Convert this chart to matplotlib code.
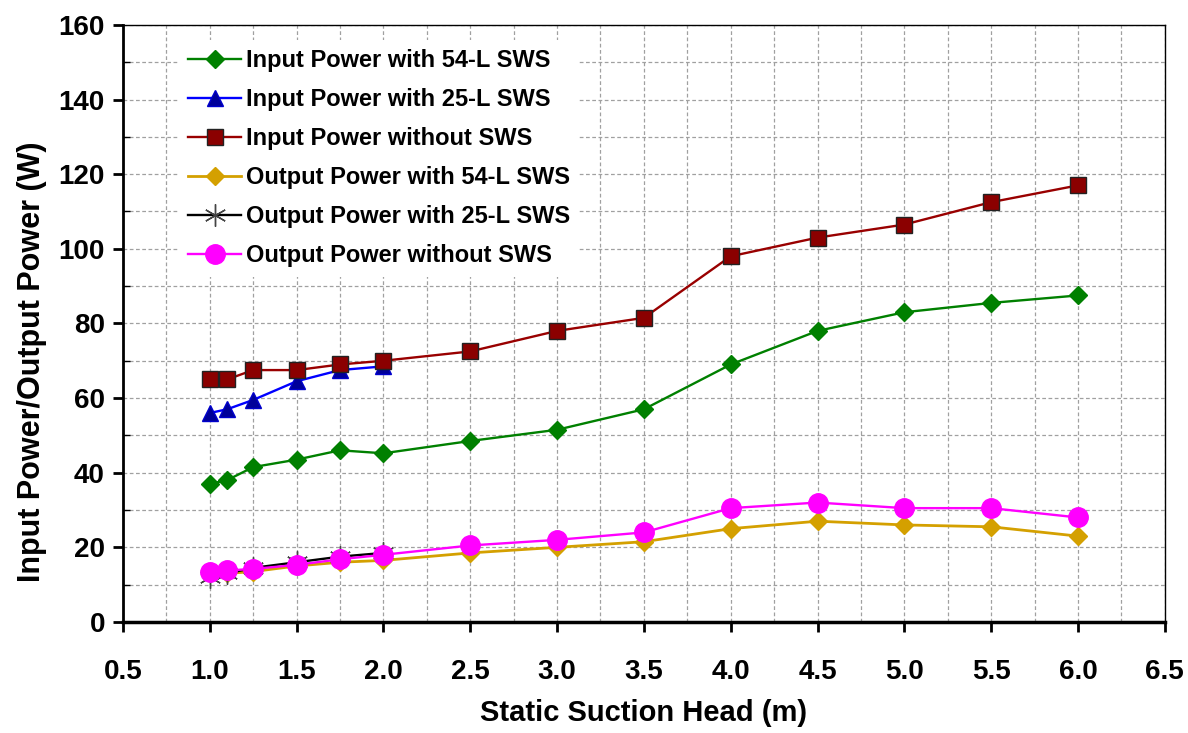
import numpy as np
import matplotlib.pyplot as plt
from matplotlib.ticker import MultipleLocator

plt.rcParams['font.family'] = ['Liberation Sans', 'DejaVu Sans']

# 数据
head_full = [1.0, 1.1, 1.25, 1.5, 1.75, 2.0, 2.5, 3.0, 3.5, 4.0, 4.5, 5.0, 5.5, 6.0]
head_25 = [1.0, 1.1, 1.25, 1.5, 1.75, 2.0]

in_54 = [37, 38, 41.5, 43.5, 46, 45.2, 48.5, 51.5, 57, 69, 78, 83, 85.5, 87.5]
in_25 = [56, 57, 59.5, 64.5, 67.5, 68.5]
in_none = [65, 65, 67.5, 67.5, 69, 70, 72.5, 78, 81.5, 98, 103, 106.5, 112.5, 117]
out_54 = [13, 13, 13.5, 15, 16, 16.5, 18.5, 20, 21.5, 25, 27, 26, 25.5, 23]
out_25 = [12, 13, 14.5, 16, 17.5, 18.5]
out_none = [13.5, 13.8, 14.2, 15.3, 16.8, 18, 20.5, 22, 24, 30.5, 32, 30.5, 30.5, 28]

fig = plt.figure(figsize=(11.88, 7.33), dpi=100)
ax = fig.add_axes([0.1035, 0.1515, 0.877, 0.8145])

ax.plot(head_full, in_54, color='#008000', marker='D', markersize=9, lw=1.7,
        label='Input Power with 54-L SWS')
ax.plot(head_25, in_25, color='#0000FF', marker='^', markersize=11, lw=1.7,
        markerfacecolor='#000099', markeredgecolor='#0000CC',
        label='Input Power with 25-L SWS')
ax.plot(head_full, in_none, color='#990000', marker='s', markersize=12, lw=1.7,
        markerfacecolor='#8B0000', markeredgecolor='#222222',
        label='Input Power without SWS')
ax.plot(head_full, out_54, color='#D4A000', marker='D', markersize=9, lw=2,
        label='Output Power with 54-L SWS')
ax.plot(head_25, out_25, color='black', marker=(6, 2, 0), markersize=16, lw=1.7,
        markeredgecolor='#444444', markeredgewidth=1,
        label='Output Power with 25-L SWS')
ax.plot(head_full, out_none, color='#FF00FF', marker='o', markersize=14, lw=1.7,
        label='Output Power without SWS')

ax.set_xlim(0.5, 6.5)
ax.set_ylim(0, 160)
ax.xaxis.set_major_locator(MultipleLocator(0.5))
ax.xaxis.set_minor_locator(MultipleLocator(0.25))
ax.yaxis.set_major_locator(MultipleLocator(20))
ax.yaxis.set_minor_locator(MultipleLocator(10))
ax.set_xticklabels([f'{v:.1f}' for v in ax.get_xticks()])
ax.grid(True, which='both', linestyle=(0, (3, 2)), color='#A0A0A0', lw=0.9)
ax.set_axisbelow(True)

ax.tick_params(which='major', direction='out', length=7, width=2,
               labelsize=20, pad=6)
ax.tick_params(axis='x', which='major', pad=20)
ax.tick_params(axis='x', which='minor', length=0)
ax.tick_params(axis='y', which='minor', direction='in', length=5, width=1)
for lbl in ax.get_xticklabels() + ax.get_yticklabels():
    lbl.set_fontweight('bold')
for s in ax.spines.values():
    s.set_linewidth(1)
ax.spines['bottom'].set_linewidth(2.5)
ax.spines['left'].set_linewidth(2)

ax.set_xlabel('Static Suction Head (m)', fontsize=21, fontweight='bold', labelpad=10)
ax.set_ylabel('Input Power/Output Power (W)', fontsize=22, fontweight='bold')
ax.yaxis.set_label_coords(-0.073, 0.435)

leg = ax.legend(loc='upper left', bbox_to_anchor=(0.042, 0.995),
                prop={'weight': 'bold', 'size': 17}, frameon=True,
                fancybox=False, edgecolor='none', facecolor='white',
                framealpha=1, handlelength=2.25, labelspacing=0.68,
                handletextpad=0.2, borderpad=0.4)

fig.savefig('out.png', dpi=100)
